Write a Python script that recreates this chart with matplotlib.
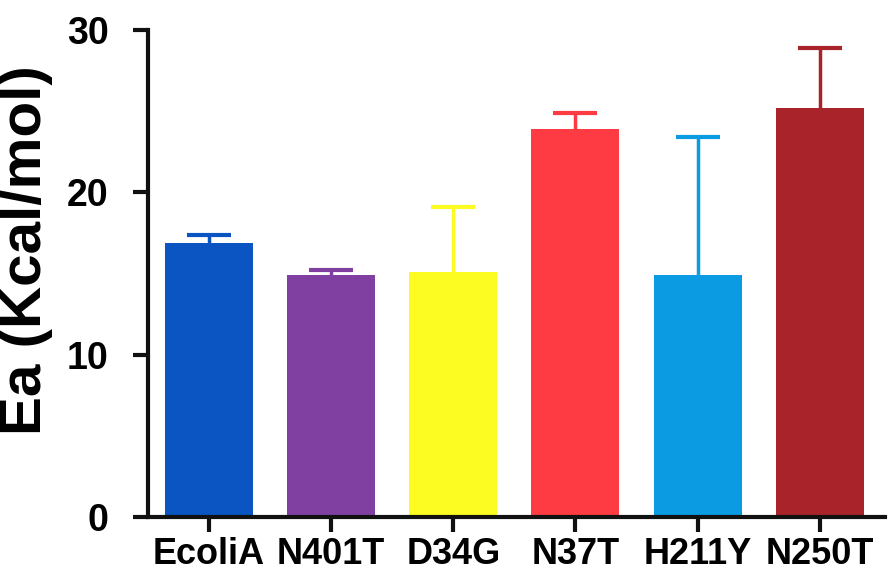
import numpy as np
import matplotlib.pyplot as plt

plt.rcParams['font.family'] = ['Liberation Sans', 'DejaVu Sans']
plt.rcParams['font.weight'] = 'bold'

# activation energy per enzyme variant, mean and upper error
names = ['EcoliA', 'N401T', 'D34G', 'N37T', 'H211Y', 'N250T']
ea = [16.9, 14.9, 15.1, 23.9, 14.9, 25.2]
err = [0.5, 0.3, 4.0, 1.0, 8.5, 3.7]
colors = ['#0a55c2', '#8040a2', '#fdfc22', '#fe3a42', '#0a9be2', '#a9232a']

fig = plt.figure(figsize=(8.9, 5.74), dpi=100)
ax = fig.add_axes([0.166, 0.099, 0.828, 0.849])

x = np.arange(len(names))
ax.bar(x, ea, width=0.72, color=colors, zorder=2)
for i in range(len(names)):
    line, caps, bars = ax.errorbar(x[i], ea[i], yerr=[[0], [err[i]]], fmt='none',
                                   ecolor=colors[i], elinewidth=2.5, capsize=16,
                                   capthick=3, zorder=1)
    caps[0].set_visible(False)  # only the upper cap

ax.set_xlim(-0.5, 5.53)
ax.set_ylim(0, 30)
ax.set_yticks([0, 10, 20, 30])
ax.set_xticks(x)
ax.set_xticklabels(names)

for s in ['top', 'right']:
    ax.spines[s].set_visible(False)
for s in ['left', 'bottom']:
    ax.spines[s].set_linewidth(3)
    ax.spines[s].set_color('#111111')

ax.tick_params(axis='y', length=11, width=3, labelsize=27, pad=17, color='#111111')
ax.tick_params(axis='x', length=11, width=3, labelsize=26, pad=3, color='#111111')
ax.set_ylabel('Ea (Kcal/mol)', fontsize=42, fontweight='bold')
ax.yaxis.set_label_coords(-0.128, 0.548)

fig.savefig('out.png', dpi=100)
